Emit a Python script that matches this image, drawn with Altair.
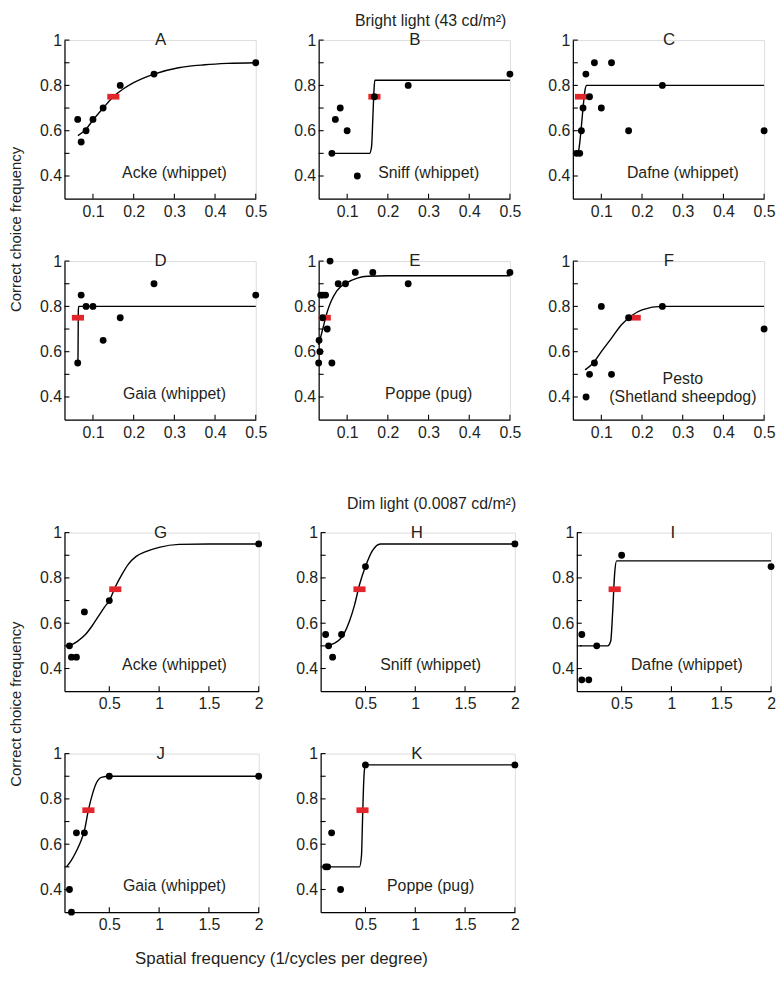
import altair as alt
import pandas as pd

FONT = "Liberation Sans, Arial, sans-serif"
NARROW = "Liberation Sans Narrow, Liberation Sans, Arial, sans-serif"
RED = "#e3262b"

Y_TICKS = [0.4, 0.5, 0.6, 0.7, 0.8, 0.9, 1.0]
BRIGHT_TICKS = [0.1, 0.2, 0.3, 0.4, 0.5]
DIM_TICKS = [0.5, 1.0, 1.5, 2.0]
BRIGHT_DOMAIN = [0.03, 0.5]
DIM_DOMAIN = [0.05, 2.0]
Y_DOMAIN = [0.3, 1.0]

# ---- Bright light ----
A_px = [0.0625, 0.071, 0.083, 0.1, 0.125, 0.167, 0.25, 0.5]
A_py = [0.65, 0.55, 0.6, 0.65, 0.7, 0.8, 0.85, 0.9]
A_cx = [0.063, 0.083, 0.1, 0.125, 0.15, 0.175, 0.2, 0.25, 0.31, 0.375, 0.43, 0.5]
A_cy = [0.578, 0.607, 0.647, 0.70, 0.75, 0.785, 0.812, 0.85, 0.878, 0.891, 0.897, 0.9]
A_red = (0.15, 0.75)

B_px = [0.0625, 0.071, 0.083, 0.1, 0.125, 0.167, 0.25, 0.5]
B_py = [0.5, 0.65, 0.7, 0.6, 0.4, 0.75, 0.8, 0.85]
B_cx = [0.0625, 0.155, 0.16, 0.163, 0.166, 0.168, 0.5]
B_cy = [0.5, 0.5, 0.53, 0.65, 0.78, 0.823, 0.823]
B_red = (0.167, 0.75)

C_px = [0.039, 0.047, 0.051, 0.055, 0.062, 0.071, 0.083, 0.1, 0.125, 0.167, 0.25, 0.5]
C_py = [0.5, 0.5, 0.6, 0.7, 0.85, 0.75, 0.9, 0.7, 0.9, 0.6, 0.8, 0.6]
C_cx = [0.039, 0.045, 0.05, 0.055, 0.06, 0.064, 0.5]
C_cy = [0.49, 0.52, 0.6, 0.7, 0.78, 0.8, 0.8]
C_red = (0.05, 0.75)

D_px = [0.0625, 0.071, 0.083, 0.1, 0.125, 0.167, 0.25, 0.5]
D_py = [0.55, 0.85, 0.8, 0.8, 0.65, 0.75, 0.9, 0.85]
D_cx = [0.063, 0.0633, 0.0637, 0.064, 0.065, 0.5]
D_cy = [0.55, 0.6, 0.7, 0.78, 0.8, 0.8]
D_red = (0.063, 0.75)

E_px = [0.031, 0.033, 0.03, 0.035, 0.04, 0.047, 0.04, 0.051, 0.0625, 0.058, 0.078, 0.096, 0.12, 0.163, 0.25, 0.5]
E_py = [0.65, 0.6, 0.55, 0.85, 0.85, 0.85, 0.75, 0.7, 0.55, 1.0, 0.9, 0.9, 0.95, 0.95, 0.9, 0.95]
E_cx = [0.03, 0.04, 0.05, 0.06, 0.075, 0.1, 0.125, 0.15, 0.2, 0.5]
E_cy = [0.63, 0.7, 0.77, 0.82, 0.87, 0.905, 0.925, 0.933, 0.935, 0.935]
E_red = (0.045, 0.75)

F_px = [0.0625, 0.071, 0.083, 0.1, 0.125, 0.167, 0.25, 0.5]
F_py = [0.4, 0.5, 0.55, 0.8, 0.5, 0.75, 0.8, 0.7]
F_cx = [0.06, 0.08, 0.1, 0.125, 0.15, 0.175, 0.2, 0.25, 0.5]
F_cy = [0.52, 0.55, 0.6, 0.66, 0.72, 0.76, 0.785, 0.8, 0.8]
F_red = (0.182, 0.75)

# ---- Dim light ----
G_px = [0.1, 0.12, 0.17, 0.25, 0.5, 2.0]
G_py = [0.5, 0.45, 0.45, 0.65, 0.7, 0.95]
G_cx = [0.1, 0.18, 0.26, 0.33, 0.39, 0.45, 0.5, 0.56, 0.62, 0.69, 0.77, 0.86, 1.0, 1.2, 1.5, 2.0]
G_cy = [0.5, 0.52, 0.55, 0.59, 0.63, 0.67, 0.7, 0.76, 0.81, 0.86, 0.895, 0.915, 0.935, 0.948, 0.95, 0.95]
G_red = (0.56, 0.75)

H_px = [0.1, 0.13, 0.17, 0.26, 0.5, 2.0]
H_py = [0.55, 0.5, 0.45, 0.55, 0.85, 0.95]
H_cx = [0.1, 0.18, 0.28, 0.34, 0.39, 0.44, 0.5, 0.57, 0.65, 2.0]
H_cy = [0.5, 0.51, 0.55, 0.61, 0.68, 0.77, 0.85, 0.92, 0.95, 0.95]
H_red = (0.44, 0.75)

I_px = [0.1, 0.1, 0.17, 0.25, 0.5, 2.0]
I_py = [0.55, 0.35, 0.35, 0.5, 0.9, 0.85]
I_cx = [0.08, 0.36, 0.39, 0.41, 0.43, 0.45, 2.0]
I_cy = [0.5, 0.5, 0.52, 0.65, 0.82, 0.875, 0.875]
I_red = (0.43, 0.75)

J_px = [0.1, 0.12, 0.17, 0.25, 0.5, 2.0]
J_py = [0.4, 0.3, 0.65, 0.65, 0.9, 0.9]
J_cx = [0.07, 0.12, 0.17, 0.22, 0.25, 0.29, 0.33, 0.37, 0.42, 0.5, 2.0]
J_cy = [0.5, 0.53, 0.57, 0.62, 0.66, 0.75, 0.82, 0.87, 0.895, 0.9, 0.9]
J_red = (0.29, 0.75)

K_px = [0.1, 0.12, 0.16, 0.25, 0.5, 2.0]
K_py = [0.5, 0.5, 0.65, 0.4, 0.95, 0.95]
K_cx = [0.08, 0.44, 0.46, 0.47, 0.48, 0.49, 0.5, 2.0]
K_cy = [0.5, 0.5, 0.55, 0.7, 0.85, 0.93, 0.95, 0.95]
K_red = (0.47, 0.75)

LABELS = ["Acke (whippet)", "Sniff (whippet)", "Dafne (whippet)",
          "Gaia (whippet)", "Poppe (pug)", "Pesto\n(Shetland sheepdog)",
          "Acke (whippet)", "Sniff (whippet)", "Dafne (whippet)",
          "Gaia (whippet)", "Poppe (pug)"]

H_PLOT = 160
RED_SHAPE = "M-1,-0.47L1,-0.47L1,0.47L-1,0.47Z"
FS = 16


def panel(px, py, cx, cy, red, letter, label, dim, width, extras=()):
    xdom = DIM_DOMAIN if dim else BRIGHT_DOMAIN
    xticks = DIM_TICKS if dim else BRIGHT_TICKS
    xs = alt.Scale(domain=xdom, nice=False, zero=False)
    ys = alt.Scale(domain=Y_DOMAIN, nice=False, zero=False)
    xaxis = alt.Axis(values=xticks, format="~g", ticks=False, grid=False,
                     domainColor="black", domainWidth=1.2, labelFont=FONT,
                     labelFontSize=FS, labelColor="#231f20", labelPadding=5,
                     labelFlush=False, labelOverlap=False)
    yaxis = alt.Axis(values=Y_TICKS, ticks=False, grid=False,
                     domainColor="black", domainWidth=1.2, labelFont=FONT,
                     labelFontSize=FS, labelColor="#231f20", labelPadding=3,
                     labelFlush=False, labelOverlap=False,
                     labelExpr="abs(datum.value-1)<0.001 ? '1' : (round(datum.value*10)%2==0 ? format(datum.value,'.1f') : '')")
    X = alt.X("x:Q", scale=xs, axis=xaxis, title=None)
    Y = alt.Y("y:Q", scale=ys, axis=yaxis, title=None)

    ytk = alt.Chart(pd.DataFrame({"y": Y_TICKS})).mark_rule(
        color="black", strokeWidth=1.1).encode(
        y=Y, x=alt.value(0), x2=alt.value(5))
    xtk = alt.Chart(pd.DataFrame({"x": xticks})).mark_rule(
        color="black", strokeWidth=1.1).encode(
        x=X, y=alt.value(H_PLOT), y2=alt.value(H_PLOT - 5))
    curve = alt.Chart(pd.DataFrame({"x": cx, "y": cy})).mark_line(
        color="black", strokeWidth=1.4, interpolate="monotone").encode(x=X, y=Y)
    redm = alt.Chart(pd.DataFrame({"x": [red[0]], "y": [red[1]]})).mark_point(
        shape=RED_SHAPE, filled=True, color=RED, opacity=1, size=150,
        strokeWidth=0).encode(x=X, y=Y)
    pts = alt.Chart(pd.DataFrame({"x": px, "y": py})).mark_circle(
        color="black", opacity=1, size=48).encode(x=X, y=Y)
    let = alt.Chart(pd.DataFrame({"t": [letter]})).mark_text(
        font=FONT, fontSize=17, color="#231f20", baseline="middle").encode(
        x=alt.value(97), y=alt.value(0), text="t:N")
    lab = alt.Chart(pd.DataFrame({"t": [label]})).mark_text(
        font=FONT, fontSize=FS, color="#231f20", baseline="middle",
        lineBreak="\n", lineHeight=18).encode(
        x=alt.value(111), y=alt.value(134 if "\n" not in label else 119),
        text="t:N")
    layers = [ytk, xtk, curve, redm, pts, let, lab] + list(extras)
    return alt.layer(*layers).properties(width=width, height=H_PLOT)


def txt(s, x, y, size=FS, font=FONT, angle=0):
    kw = dict(font=font, fontSize=size, color="#231f20", baseline="middle")
    if angle:
        kw["angle"] = angle
    return alt.Chart(pd.DataFrame({"t": [s]})).mark_text(**kw).encode(
        x=alt.value(x), y=alt.value(y), text="t:N")


ytitle = "Correct choice frequency"
WB, WD = 193, 196

pA = panel(A_px, A_py, A_cx, A_cy, A_red, "A", LABELS[0], False, WB,
           [txt(ytitle, -49, 191, 15, NARROW, 270)])
pB = panel(B_px, B_py, B_cx, B_cy, B_red, "B", LABELS[1], False, WB,
           [txt("Bright light (43 cd/m²)", 113, -19, 16)])
pC = panel(C_px, C_py, C_cx, C_cy, C_red, "C", LABELS[2], False, WB)
pD = panel(D_px, D_py, D_cx, D_cy, D_red, "D", LABELS[3], False, WB)
pE = panel(E_px, E_py, E_cx, E_cy, E_red, "E", LABELS[4], False, WB)
pF = panel(F_px, F_py, F_cx, F_cy, F_red, "F", LABELS[5], False, WB)
pG = panel(G_px, G_py, G_cx, G_cy, G_red, "G", LABELS[6], True, WD,
           [txt(ytitle, -49, 173, 15, NARROW, 270)])
pH = panel(H_px, H_py, H_cx, H_cy, H_red, "H", LABELS[7], True, WD,
           [txt("Dim light (0.0087 cd/m²)", 112, -29, 16)])
pI = panel(I_px, I_py, I_cx, I_cy, I_red, "I", LABELS[8], True, WD)
pJ = panel(J_px, J_py, J_cx, J_cy, J_red, "J", LABELS[9], True, WD,
           [txt("Spatial frequency (1/cycles per degree)", 219, 207, 17)])
pK = panel(K_px, K_py, K_cx, K_cy, K_red, "K", LABELS[10], True, WD)

top = alt.concat(pA, pB, pC, pD, pE, pF, columns=3, bounds="flush",
                 spacing={"row": 63, "column": 63.5})
bot = alt.concat(pG, pH, pI, pJ, pK, columns=3, bounds="flush",
                 spacing={"row": 63, "column": 62.5})

chart = alt.vconcat(top, bot, spacing=54).properties(
    padding=0
).configure_view(stroke=None).configure(background="white")

chart.save("out.html", embed_options={"renderer": "svg", "actions": False})
